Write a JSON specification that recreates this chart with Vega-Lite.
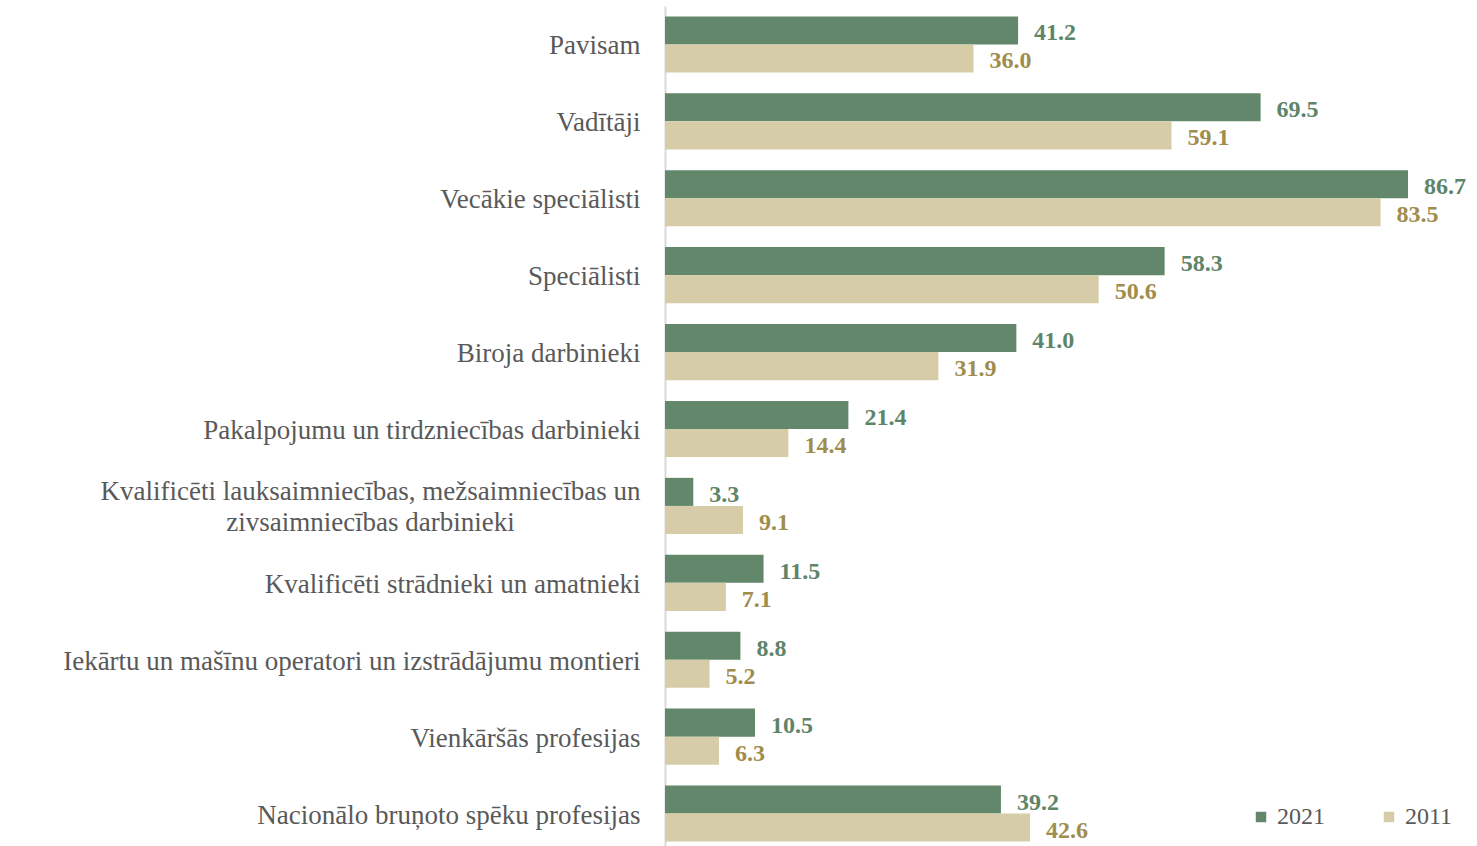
{
  "$schema": "https://vega.github.io/schema/vega-lite/v6.json",
  "autosize": "none",
  "padding": {"left": 665, "top": 6, "right": 0, "bottom": 0},
  "width": 812,
  "height": 846,
  "background": "white",
  "config": {"view": {"stroke": null}, "font": "Liberation Serif"},
  "data": {"values": [
    {"cat": "Pavisam", "year": "2021", "value": 41.2},
    {"cat": "Pavisam", "year": "2011", "value": 36.0},
    {"cat": "Vadītāji", "year": "2021", "value": 69.5},
    {"cat": "Vadītāji", "year": "2011", "value": 59.1},
    {"cat": "Vecākie speciālisti", "year": "2021", "value": 86.7},
    {"cat": "Vecākie speciālisti", "year": "2011", "value": 83.5},
    {"cat": "Speciālisti", "year": "2021", "value": 58.3},
    {"cat": "Speciālisti", "year": "2011", "value": 50.6},
    {"cat": "Biroja darbinieki", "year": "2021", "value": 41.0},
    {"cat": "Biroja darbinieki", "year": "2011", "value": 31.9},
    {"cat": "Pakalpojumu un tirdzniecības darbinieki", "year": "2021", "value": 21.4},
    {"cat": "Pakalpojumu un tirdzniecības darbinieki", "year": "2011", "value": 14.4},
    {"cat": "Kvalificēti lauksaimniecības, mežsaimniecības un zivsaimniecības darbinieki", "year": "2021", "value": 3.3},
    {"cat": "Kvalificēti lauksaimniecības, mežsaimniecības un zivsaimniecības darbinieki", "year": "2011", "value": 9.1},
    {"cat": "Kvalificēti strādnieki un amatnieki", "year": "2021", "value": 11.5},
    {"cat": "Kvalificēti strādnieki un amatnieki", "year": "2011", "value": 7.1},
    {"cat": "Iekārtu un mašīnu operatori un izstrādājumu montieri", "year": "2021", "value": 8.8},
    {"cat": "Iekārtu un mašīnu operatori un izstrādājumu montieri", "year": "2011", "value": 5.2},
    {"cat": "Vienkāršās profesijas", "year": "2021", "value": 10.5},
    {"cat": "Vienkāršās profesijas", "year": "2011", "value": 6.3},
    {"cat": "Nacionālo bruņoto spēku profesijas", "year": "2021", "value": 39.2},
    {"cat": "Nacionālo bruņoto spēku profesijas", "year": "2011", "value": 42.6}
  ]},
  "encoding": {
    "y": {
      "field": "cat", "type": "nominal", "sort": null, "title": null,
      "scale": {"paddingInner": 0.27, "paddingOuter": 0.135},
      "axis": {
        "ticks": false, "grid": false,
        "domainColor": "#D9D9D9", "domainWidth": 2,
        "labelFont": "Liberation Serif", "labelFontSize": 27, "labelColor": "#595959",
        "labelLimit": 800, "labelLineHeight": 31,
        "labelOffset": {"condition": {"test": "indexof(datum.value, 'lauksaimniecības') >= 0", "value": -14}, "value": 2},
        "labelAlign": {"condition": {"test": "indexof(datum.value, 'lauksaimniecības') >= 0", "value": "center"}, "value": "right"},
        "labelPadding": {"condition": {"test": "indexof(datum.value, 'lauksaimniecības') >= 0", "value": 295}, "value": 25},
        "labelExpr": "datum.value == 'Kvalificēti lauksaimniecības, mežsaimniecības un zivsaimniecības darbinieki' ? ['Kvalificēti lauksaimniecības, mežsaimniecības un', 'zivsaimniecības darbinieki'] : datum.value"
      }
    },
    "yOffset": {"field": "year", "type": "nominal", "sort": ["2021", "2011"]},
    "x": {
      "field": "value", "type": "quantitative",
      "scale": {"domain": [0, 94.75], "nice": false},
      "axis": null
    }
  },
  "layer": [
    {
      "mark": {"type": "bar"},
      "encoding": {
        "color": {
          "field": "year", "type": "nominal",
          "scale": {"domain": ["2021", "2011"], "range": ["#62876B", "#D6CDA8"]},
          "legend": {
            "title": null, "orient": "none", "direction": "horizontal",
            "legendX": 584, "legendY": 799,
            "symbolType": "square", "symbolSize": 110, "symbolStrokeWidth": 0,
            "labelFont": "Liberation Serif", "labelFontSize": 24, "labelColor": "#595959",
            "labelOffset": 4, "columnPadding": 52
          }
        }
      }
    },
    {
      "mark": {"type": "text", "align": "left", "baseline": "middle", "dx": 16, "dy": 3, "fontWeight": "bold", "fontSize": 24, "font": "Liberation Serif"},
      "encoding": {
        "text": {"field": "value", "type": "quantitative", "format": ".1f"},
        "color": {"condition": {"test": "datum.year == '2021'", "value": "#5E8469"}, "value": "#A08D4E"}
      }
    }
  ]
}
